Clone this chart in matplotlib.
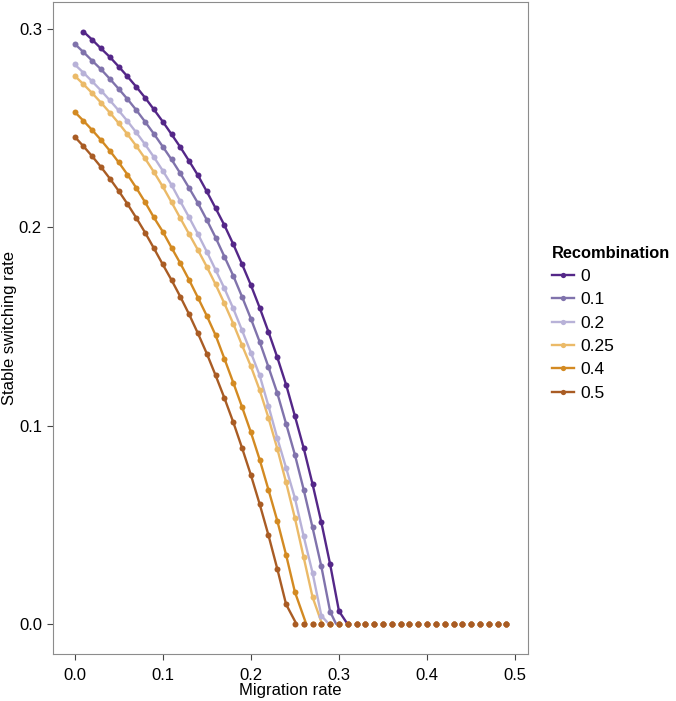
import numpy as np
import matplotlib
matplotlib.use('Agg')
import matplotlib.pyplot as plt
from matplotlib.lines import Line2D

plt.rcParams['font.family'] = ['Liberation Sans', 'DejaVu Sans']

# migration rate grid
migration = [0.00, 0.01, 0.02, 0.03, 0.04, 0.05, 0.06, 0.07, 0.08, 0.09,
             0.10, 0.11, 0.12, 0.13, 0.14, 0.15, 0.16, 0.17, 0.18, 0.19,
             0.20, 0.21, 0.22, 0.23, 0.24, 0.25, 0.26, 0.27, 0.28, 0.29,
             0.30, 0.31, 0.32, 0.33, 0.34, 0.35, 0.36, 0.37, 0.38, 0.39,
             0.40, 0.41, 0.42, 0.43, 0.44, 0.45, 0.46, 0.47, 0.48, 0.49]

recomb_labels = ['0', '0.1', '0.2', '0.25', '0.4', '0.5']

# stable switching rate for each recombination value
rec_0 = [np.nan, 0.2985, 0.2944, 0.2900, 0.2857, 0.2809, 0.2759, 0.2707, 0.2652, 0.2593,
         0.2532, 0.2468, 0.2403, 0.2333, 0.2261, 0.2180, 0.2096, 0.2010, 0.1915, 0.1814,
         0.1709, 0.1595, 0.1473, 0.1345, 0.1207, 0.1049, 0.0887, 0.0707, 0.0514, 0.0302,
         0.0067, 0.0, 0.0, 0.0, 0.0, 0.0, 0.0, 0.0, 0.0, 0.0,
         0.0, 0.0, 0.0, 0.0, 0.0, 0.0, 0.0, 0.0, 0.0, 0.0]
rec_01 = [0.2924, 0.2882, 0.2838, 0.2795, 0.2747, 0.2697, 0.2645, 0.2590, 0.2531, 0.2470,
          0.2406, 0.2341, 0.2271, 0.2197, 0.2121, 0.2037, 0.1948, 0.1852, 0.1756, 0.1650,
          0.1540, 0.1423, 0.1296, 0.1165, 0.1010, 0.0854, 0.0678, 0.0488, 0.0292, 0.0064,
          0.0, 0.0, 0.0, 0.0, 0.0, 0.0, 0.0, 0.0, 0.0, 0.0,
          0.0, 0.0, 0.0, 0.0, 0.0, 0.0, 0.0, 0.0, 0.0, 0.0]
rec_02 = [0.2820, 0.2778, 0.2734, 0.2688, 0.2639, 0.2588, 0.2534, 0.2477, 0.2417, 0.2353,
          0.2285, 0.2213, 0.2130, 0.2049, 0.1965, 0.1877, 0.1785, 0.1692, 0.1591, 0.1481,
          0.1369, 0.1254, 0.1100, 0.0938, 0.0788, 0.0636, 0.0443, 0.0260, 0.0044, 0.0,
          0.0, 0.0, 0.0, 0.0, 0.0, 0.0, 0.0, 0.0, 0.0, 0.0,
          0.0, 0.0, 0.0, 0.0, 0.0, 0.0, 0.0, 0.0, 0.0, 0.0]
rec_025 = [0.2763, 0.2720, 0.2675, 0.2627, 0.2577, 0.2524, 0.2468, 0.2409, 0.2346, 0.2278,
           0.2205, 0.2126, 0.2045, 0.1965, 0.1885, 0.1801, 0.1712, 0.1616, 0.1515, 0.1406,
           0.1300, 0.1180, 0.1040, 0.0885, 0.0715, 0.0535, 0.0337, 0.0138, 0.0, 0.0,
           0.0, 0.0, 0.0, 0.0, 0.0, 0.0, 0.0, 0.0, 0.0, 0.0,
           0.0, 0.0, 0.0, 0.0, 0.0, 0.0, 0.0, 0.0, 0.0, 0.0]
rec_04 = [0.2581, 0.2536, 0.2489, 0.2439, 0.2385, 0.2327, 0.2265, 0.2198, 0.2126, 0.2049,
          0.1978, 0.1897, 0.1818, 0.1734, 0.1645, 0.1554, 0.1456, 0.1338, 0.1218, 0.1095,
          0.0968, 0.0830, 0.0678, 0.0522, 0.0350, 0.0163, 0.0, 0.0, 0.0, 0.0,
          0.0, 0.0, 0.0, 0.0, 0.0, 0.0, 0.0, 0.0, 0.0, 0.0,
          0.0, 0.0, 0.0, 0.0, 0.0, 0.0, 0.0, 0.0, 0.0, 0.0]
rec_05 = [0.2456, 0.2408, 0.2357, 0.2303, 0.2245, 0.2183, 0.2117, 0.2047, 0.1973, 0.1894,
          0.1813, 0.1734, 0.1650, 0.1561, 0.1465, 0.1364, 0.1254, 0.1140, 0.1019, 0.0889,
          0.0753, 0.0606, 0.0449, 0.0280, 0.0101, 0.0, 0.0, 0.0, 0.0, 0.0,
          0.0, 0.0, 0.0, 0.0, 0.0, 0.0, 0.0, 0.0, 0.0, 0.0,
          0.0, 0.0, 0.0, 0.0, 0.0, 0.0, 0.0, 0.0, 0.0, 0.0]

# where each fitted curve reaches zero
curve_end = [0.310, 0.297, 0.289, 0.281, 0.263, 0.252]

colors = ['#542788', '#8073ac', '#b8b2d8', '#ebba68', '#d38a22', '#a95c24']

series = [rec_0, rec_01, rec_02, rec_025, rec_04, rec_05]

fig = plt.figure(figsize=(6.76, 7.01), dpi=100)
ax = fig.add_axes([53/676, 47/701, 475/676, 652/701])

x = np.array(migration)
for ys, xe, c in zip(series, curve_end, colors):
    ys = np.array(ys, dtype=float)
    nz = ~np.isnan(ys) & (ys > 0)
    ax.plot(np.append(x[nz], xe), np.append(ys[nz], 0.0), color=c, lw=1.7,
            zorder=2, solid_capstyle='butt')
for ys, c in zip(series, colors):
    ys = np.array(ys, dtype=float)
    ok = ~np.isnan(ys)
    ax.plot(x[ok], ys[ok], 'o', color=c, ms=4.3, mew=0, zorder=3)

ax.set_xlim(-0.0245, 0.5145)
ax.set_ylim(-0.0149, 0.3134)
ax.set_xticks([0.0, 0.1, 0.2, 0.3, 0.4, 0.5])
ax.set_xticklabels(['0.0', '0.1', '0.2', '0.3', '0.4', '0.5'])
ax.set_yticks([0.0, 0.1, 0.2, 0.3])
ax.set_yticklabels(['0.0', '0.1', '0.2', '0.3'])
ax.tick_params(direction='out', length=4, width=0.8, color='#444444',
               labelsize=12, pad=4, labelcolor='black')
ax.tick_params(axis='x', pad=6)
for s in ax.spines.values():
    s.set_color('#8c8c8c')
    s.set_linewidth(0.8)

ax.set_xlabel('Migration rate', fontsize=12, labelpad=0)
ax.set_ylabel('Stable switching rate', fontsize=12, labelpad=1)

handles = [Line2D([0], [0], color=c, lw=1.7, marker='o', ms=3.8, mew=0) for c in colors]
leg = fig.legend(handles, recomb_labels, title='Recombination', loc='upper left',
                 bbox_to_anchor=(550/676, 1 - 244/701), frameon=False,
                 fontsize=12.5, title_fontsize=11.8, handlelength=1.3,
                 handletextpad=0.35, labelspacing=0.47, borderpad=0.1,
                 borderaxespad=0, alignment='left')
leg.get_title().set_fontweight('bold')

fig.savefig('out.png', dpi=100)
